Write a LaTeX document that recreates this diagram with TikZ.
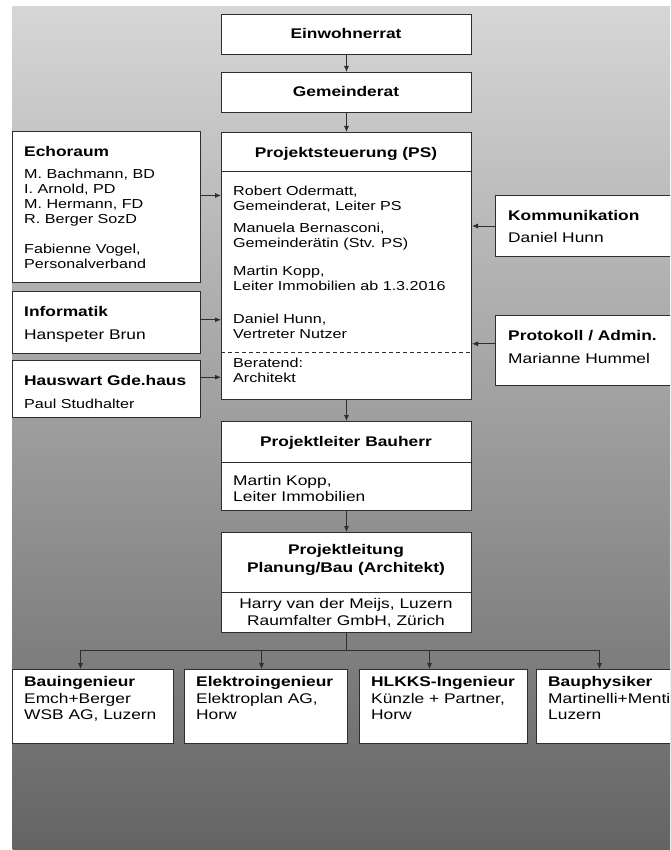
\documentclass[tikz,border=0pt]{standalone}
\usepackage{fontspec}
\setmainfont[FakeStretch=1.24]{Liberation Sans}
\usepackage{tikz}
\usetikzlibrary{positioning,arrows.meta}
\definecolor{sfondosu}{HTML}{D6D6D6}
\definecolor{sfondogiu}{HTML}{646464}
\definecolor{bordo}{HTML}{2E2E2E}

\begin{document}
\begin{tikzpicture}[x=1pt, y=-1pt, >={Latex[length=6pt,width=5pt]},
    casella/.style={draw=bordo, line width=1pt, fill=white, inner sep=0pt, anchor=north west},
    titolo/.style={font=\fontsize{14}{16.5}\selectfont\bfseries, inner sep=0pt, anchor=base},
    testo/.style={font=\fontsize{13}{15}\selectfont, inner sep=0pt, align=left, anchor=north west, execute at begin node=\strut},
    testog/.style={testo, font=\fontsize{14}{16.5}\selectfont},
    freccia/.style={->, draw=bordo, line width=0.8pt}]

    % Sfondo sfumato
    \useasboundingbox (0,0) rectangle (670,850);
    \clip (0,0) rectangle (670,850);
    \fill[white] (0,0) rectangle (670,850);
    \shade[top color=sfondosu, bottom color=sfondogiu] (12.7,7) rectangle (670,850);

    % Colonna centrale
    \node[casella, minimum width=250pt, minimum height=40pt] (einw) at (221,14) {};
    \node[titolo] (einwTit) at (346,39) {Einwohnerrat};
    \node[casella, minimum width=250pt, minimum height=40pt] (gemr) at (221,72) {};
    \node[titolo] (gemrTit) at (346,97) {Gemeinderat};

    \node[casella, minimum width=250pt, minimum height=267pt] (ps) at (221,132) {};
    \draw[bordo, line width=1pt] ([yshift=-40pt]ps.north west) -- ([yshift=-40pt]ps.north east);
    \draw[bordo, line width=0.8pt, dash pattern=on 4pt off 3pt] ([yshift=-220pt]ps.north west) -- ([yshift=-220pt]ps.north east);
    \node[titolo] (psTit) at (346,157.5) {Projektsteuerung (PS)};
    \node[testo] (psTxt) at (233,185.5) {Robert Odermatt,\\ Gemeinderat, Leiter PS\\[7.5pt]
        Manuela Bernasconi,\\ Gemeinderätin (Stv. PS)\\[13pt]
        Martin Kopp,\\ Leiter Immobilien ab 1.3.2016\\[18pt]
        Daniel Hunn,\\ Vertreter Nutzer};
    \node[testo] (psBer) at (233,358) {Beratend:\\ Architekt};

    \node[casella, minimum width=250pt, minimum height=89pt] (plb) at (221,421) {};
    \draw[bordo, line width=1pt] ([yshift=-41pt]plb.north west) -- ([yshift=-41pt]plb.north east);
    \node[titolo] (plbTit) at (346,446.5) {Projektleiter Bauherr};
    \node[testog] (plbTxt) at (233,475) {Martin Kopp,\\ Leiter Immobilien};

    \node[casella, minimum width=250pt, minimum height=100pt] (pl) at (221,532) {};
    \draw[bordo, line width=1pt] ([yshift=-60pt]pl.north west) -- ([yshift=-60pt]pl.north east);
    \node[titolo, font=\fontsize{14}{17.5}\selectfont\bfseries, align=center, anchor=north,
          execute at begin node=\strut] (plTit) at (346,544.3) {Projektleitung\\ Planung/Bau (Architekt)};
    \node[testog, align=center, anchor=north] (plTxt) at (346,598.5) {Harry van der Meijs, Luzern\\ Raumfalter GmbH, Zürich};

    % Caselle a sinistra
    \node[casella, minimum width=188pt, minimum height=151pt] (echo) at (12,131) {};
    \node[titolo, anchor=base west] (echoTit) at (24,157) {Echoraum};
    \node[testo] (echoTxt) at (24,169) {M. Bachmann, BD\\ I. Arnold, PD\\ M. Hermann, FD\\ R. Berger SozD\\[14.5pt]
        Fabienne Vogel,\\ Personalverband};

    \node[casella, minimum width=188pt, minimum height=62pt] (info) at (12,291) {};
    \node[titolo, anchor=base west] (infoTit) at (24,316.5) {Informatik};
    \node[testog] (infoTxt) at (24,327.5) {Hanspeter Brun};

    \node[casella, minimum width=188pt, minimum height=57pt] (haus) at (12,360) {};
    \node[titolo, anchor=base west] (hausTit) at (24,385) {Hauswart Gde.haus};
    \node[testo] (hausTxt) at (24,397.5) {Paul Studhalter};

    % Caselle a destra
    \node[casella, minimum width=205pt, minimum height=61pt] (komm) at (495,195) {};
    \node[titolo, anchor=base west] (kommTit) at (508,220) {Kommunikation};
    \node[testog] (kommTxt) at (508,230.5) {Daniel Hunn};

    \node[casella, minimum width=205pt, minimum height=70pt] (prot) at (495,315) {};
    \node[titolo, anchor=base west] (protTit) at (508,340) {Protokoll / Admin.};
    \node[testog] (protTxt) at (508,351.5) {Marianne Hummel};

    % Riga in basso
    \node[casella, minimum width=161pt, minimum height=74pt] (bing) at (12,669) {};
    \node[testog] (bingTxt) at (24,676.5) {\textbf{Bauingenieur}\\ Emch+Berger\\ WSB AG, Luzern};
    \node[casella, minimum width=163pt, minimum height=74pt] (eing) at (184,669) {};
    \node[testog] (eingTxt) at (196,676.5) {\textbf{Elektroingenieur}\\ Elektroplan AG,\\ Horw};
    \node[casella, minimum width=168pt, minimum height=74pt] (hing) at (359,669) {};
    \node[testog] (hingTxt) at (371,676.5) {\textbf{HLKKS-Ingenieur}\\ Künzle + Partner,\\ Horw};
    \node[casella, minimum width=170pt, minimum height=74pt] (bphy) at (536,669) {};
    \node[testog] (bphyTxt) at (548,676.5) {\textbf{Bauphysiker}\\ Martinelli+Menti\\ Luzern};

    % Frecce verticali
    \draw[freccia] (einw.south) -- (gemr.north);  % Einwohnerrat -> Gemeinderat
    \draw[freccia] (gemr.south) -- (ps.north);    % Gemeinderat -> PS
    \draw[freccia] (ps.south) -- (plb.north);     % PS -> Projektleiter
    \draw[freccia] (plb.south) -- (pl.north);     % Projektleiter -> Projektleitung

    % Frecce laterali verso la PS
    \coordinate (e1) at ([yshift=11.5pt]echo.east);
    \coordinate (e2) at ([yshift=2.7pt]info.east);
    \coordinate (e3) at ([yshift=11.8pt]haus.east);
    \coordinate (e4) at ([yshift=6.7pt]prot.west);
    \draw[freccia] (e1) -- (e1 -| ps.west);       % Echoraum
    \draw[freccia] (e2) -- (e2 -| ps.west);       % Informatik
    \draw[freccia] (e3) -- (e3 -| ps.west);       % Hauswart
    \draw[freccia] (komm.west) -- (komm.west -| ps.east);  % Kommunikation
    \draw[freccia] (e4) -- (e4 -| ps.east);       % Protokoll

    % Distribuzione verso gli specialisti
    \coordinate (bus) at ([yshift=-17pt]pl.south);
    \coordinate (a1) at ([xshift=-12.5pt]bing.north);
    \coordinate (a2) at ([xshift=-4.5pt]eing.north);
    \coordinate (a3) at ([xshift=-14pt]hing.north);
    \coordinate (a4) at ([xshift=-22pt]bphy.north);
    \draw[bordo, line width=0.8pt] (pl.south) -- (bus);
    \draw[bordo, line width=0.8pt] (a1 |- bus) -- (a4 |- bus);
    \draw[freccia] (a1 |- bus) -- (a1);  % Bauingenieur
    \draw[freccia] (a2 |- bus) -- (a2);  % Elektroingenieur
    \draw[freccia] (a3 |- bus) -- (a3);  % HLKKS
    \draw[freccia] (a4 |- bus) -- (a4);  % Bauphysiker

\end{tikzpicture}
\end{document}
